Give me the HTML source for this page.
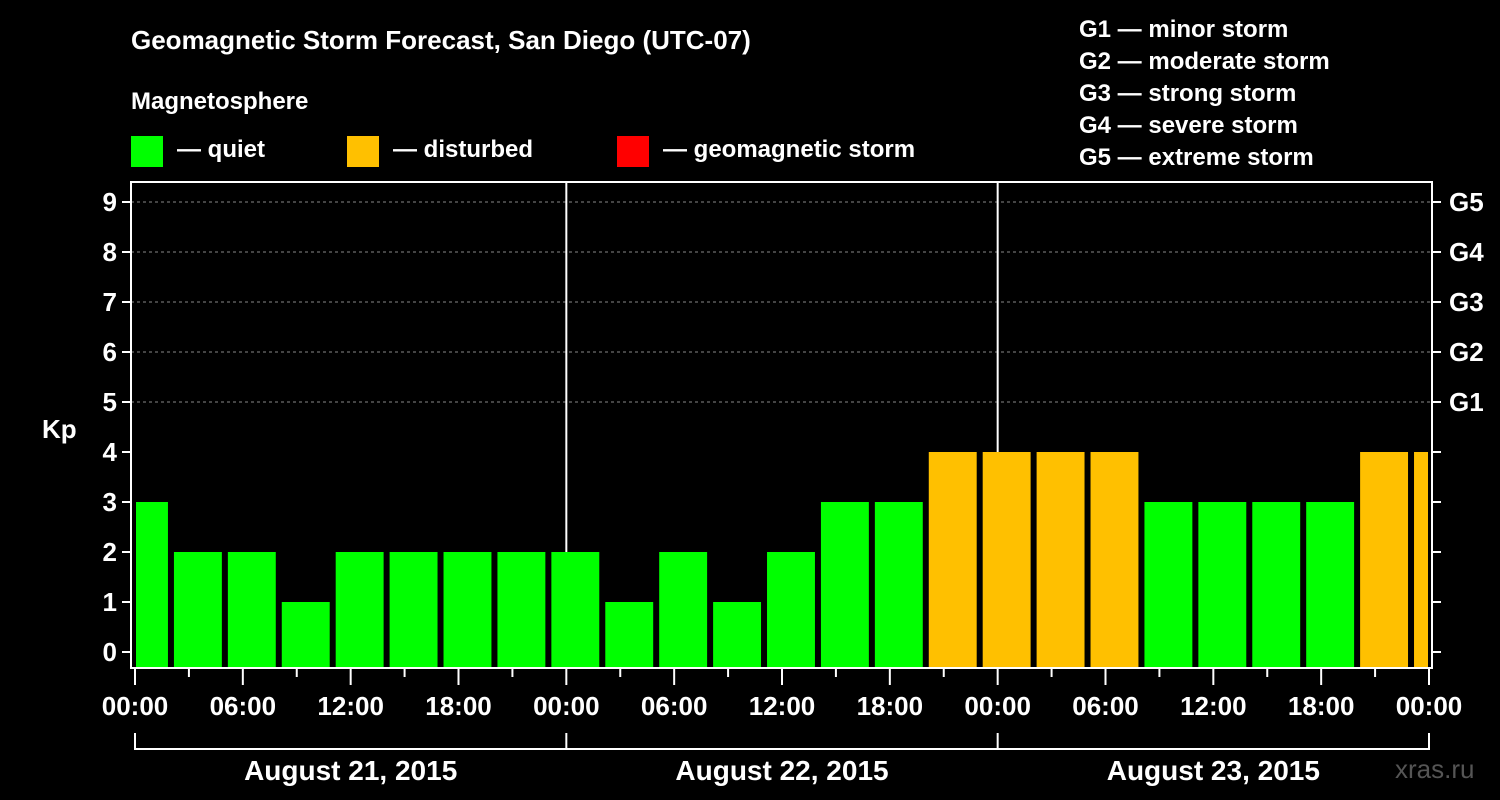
<!DOCTYPE html>
<html><head><meta charset="utf-8"><style>
body{margin:0;background:#000;}
svg{display:block;font-family:"Liberation Sans",Arial,sans-serif;font-weight:bold;}
</style></head><body>
<svg id="chart" width="1500" height="800" viewBox="0 0 1500 800">
<rect width="1500" height="800" fill="#000"/>
<text x="131" y="49" font-size="26" fill="#fff">Geomagnetic Storm Forecast, San Diego (UTC-07)</text>
<text x="131" y="109" font-size="24" fill="#fff">Magnetosphere</text>
<g><rect x="131" y="136" width="32" height="31" fill="#00ff00"/><text x="177" y="157" font-size="24" fill="#fff">— quiet</text></g>
<g><rect x="347" y="136" width="32" height="31" fill="#ffc000"/><text x="393" y="157" font-size="24" fill="#fff">— disturbed</text></g>
<g><rect x="617" y="136" width="32" height="31" fill="#ff0000"/><text x="663" y="157" font-size="24" fill="#fff">— geomagnetic storm</text></g>
<g font-size="24" fill="#fff">
<text x="1079" y="37">G1 — minor storm</text>
<text x="1079" y="69">G2 — moderate storm</text>
<text x="1079" y="101">G3 — strong storm</text>
<text x="1079" y="133">G4 — severe storm</text>
<text x="1079" y="165">G5 — extreme storm</text>
</g>
<text x="42" y="438" font-size="26" fill="#fff">Kp</text>
<text x="1395" y="778" font-size="26" fill="#555" font-weight="normal">xras.ru</text>
<g id="grid"></g><g id="bars"></g><g id="axes"></g>
</svg>
<script>
const kpValues=[3,2,2,1,2,2,2,2,2,1,2,1,2,3,3,4,4,4,4,3,3,3,3,4,4];
const yTicks=[0,1,2,3,4,5,6,7,8,9];
const gLabels=["G1","G2","G3","G4","G5"];
const gLevels=[5,6,7,8,9];
const xTickLabels=["00:00","06:00","12:00","18:00","00:00","06:00","12:00","18:00","00:00","06:00","12:00","18:00","00:00"];
const dayLabels=["August 21, 2015","August 22, 2015","August 23, 2015"];
const firstBarStartHour=-1, barHours=3, totalHours=72;
const NS="http://www.w3.org/2000/svg";
const L=131,R=1432,T=182,B=668;
const x=h=>135+h*(1429-135)/totalHours;
const y=v=>652-v*50;
function mk(p,tag,a){const e=document.createElementNS(NS,tag);for(const k in a)e.setAttribute(k,a[k]);p.appendChild(e);return e;}
const grid=document.getElementById('grid'),bars=document.getElementById('bars'),axes=document.getElementById('axes');
yTicks.forEach(v=>{if(v>=5){const l=mk(grid,'line',{x1:L,x2:R,y1:y(v),y2:y(v),stroke:'#888','stroke-dasharray':'3,3','stroke-width':1});

}});
[24,48].forEach(h=>{const l=mk(grid,'line',{x1:x(h),x2:x(h),y1:T,y2:B,stroke:'#fff','stroke-width':2});

});
kpValues.forEach((v,i)=>{
 const h0=firstBarStartHour+i*barHours;
 let x0=x(h0)+3,x1=x(h0+barHours)-3;
 x0=Math.max(x0,L+5);x1=Math.min(x1,R-4);
 const c=v>=5?'#ff0000':(v>=4?'#ffc000':'#00ff00');
 const r=mk(bars,'rect',{x:x0,y:y(v),width:x1-x0,height:B-y(v),fill:c});
 
 
});
const frame=mk(axes,'rect',{x:L,y:T,width:R-L,height:B-T,fill:'none',stroke:'#fff','stroke-width':2});


yTicks.forEach(v=>{
 mk(axes,'line',{x1:L-9,x2:L,y1:y(v),y2:y(v),stroke:'#fff','stroke-width':2});
 mk(axes,'line',{x1:R,x2:R+9,y1:y(v),y2:y(v),stroke:'#fff','stroke-width':2});
 const t=mk(axes,'text',{x:L-14,y:y(v)+9,'text-anchor':'end','font-size':26,fill:'#fff'});t.textContent=v;
 
 
});
gLevels.forEach((v,i)=>{const t=mk(axes,'text',{x:1449,y:y(v)+9,'font-size':26,fill:'#fff'});t.textContent=gLabels[i];
 
 });
for(let h=0;h<=totalHours;h+=3){mk(axes,'line',{x1:x(h),x2:x(h),y1:B,y2:B+(h%6==0?17:9),stroke:'#fff','stroke-width':2});}
xTickLabels.forEach((s,i)=>{const t=mk(axes,'text',{x:x(i*6),y:715,'text-anchor':'middle','font-size':26,fill:'#fff'});t.textContent=s;
 
 });
mk(axes,'line',{x1:x(0),x2:x(72),y1:749,y2:749,stroke:'#fff','stroke-width':2});
[0,24,48,72].forEach(h=>mk(axes,'line',{x1:x(h),x2:x(h),y1:733,y2:750,stroke:'#fff','stroke-width':2}));
dayLabels.forEach((s,i)=>{const t=mk(axes,'text',{x:x(i*24+12),y:780,'text-anchor':'middle','font-size':28,fill:'#fff'});t.textContent=s;
 
 });
</script>
</body></html>
